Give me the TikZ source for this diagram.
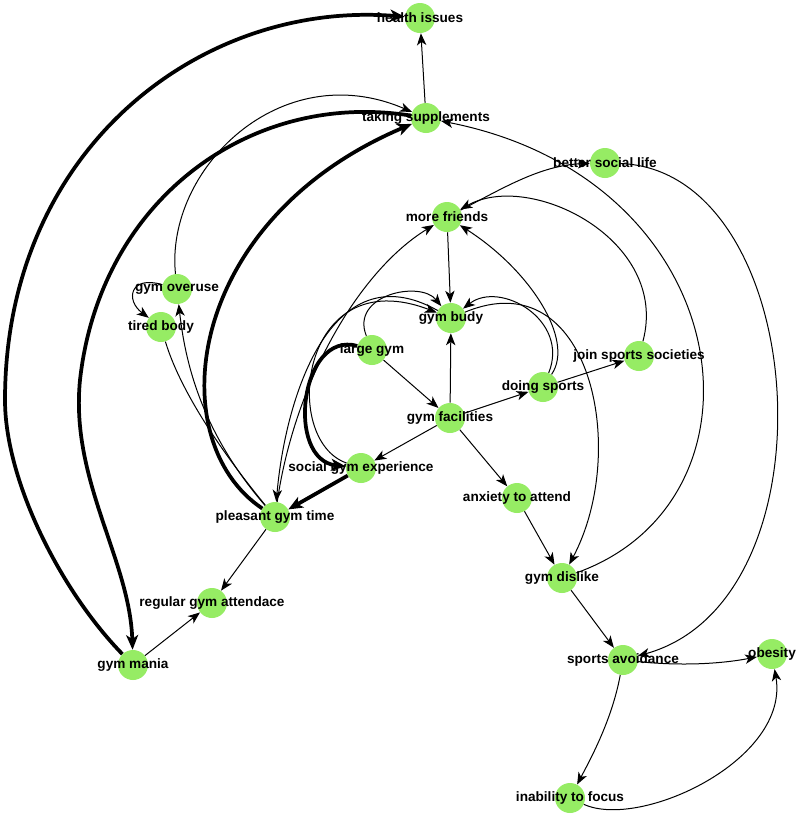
\documentclass[tikz,border=0pt]{standalone}
\usepackage{fontspec}
\setmainfont{Liberation Sans}
\usetikzlibrary{arrows.meta}
\definecolor{nodegreen}{RGB}{150,236,100}
\begin{document}
\begin{tikzpicture}[x=0.75pt,y=-0.75pt,
  concept/.style={circle,fill=nodegreen,draw=none,minimum size=22.5pt,inner sep=0pt},
  lbl/.style={font=\fontsize{10.2}{12}\selectfont\bfseries,inner sep=0pt},
  link/.style={draw=black,line width=0.75pt,-{Stealth[length=9pt,width=7pt,inset=2.5pt]}},
  plain/.style={draw=black,line width=0.75pt},
  strong/.style={draw=black,line width=2.8pt,-{Stealth[length=11pt,width=9pt,inset=3pt]}}]
\useasboundingbox (0,0) rectangle (800,818);
\fill[white] (0,0) rectangle (800,818);

% concepts
\foreach \n/\x/\y/\t in {
  hi/420/18/health issues,
  ts/426/118/taking supplements,
  bsl/605/163/better social life,
  mf/447/217/more friends,
  go/177/289/gym overuse,
  tb/161/327/tired body,
  gb/451/318/gym budy,
  lg/372/350/large gym,
  jss/639/356/join sports societies,
  ds/543/387/doing sports,
  gf/450/418/gym facilities,
  sge/361/468/social gym experience,
  aa/517/498/anxiety to attend,
  pgt/275/517/pleasant gym time,
  gd/562/578/gym dislike,
  rga/212/603/regular gym attendace,
  sa/623/660/sports avoidance,
  ob/772/654/obesity,
  gm/133/665/gym mania,
  if/570/798/inability to focus}
{
  \node[concept] (\n) at (\x,\y) {};
  \node[lbl] (\n-t) at (\x,\y) {\t};
}

% strong links
\draw[strong] (gm) .. controls (60,590) and (5,480) .. (5,400)
  .. controls (5,150) and (200,0) .. (hi);
\draw[strong] (ts) .. controls (250,90) and (100,200) .. (80,380)
  .. controls (70,480) and (130,560) .. (gm);
\draw[strong] (pgt) .. controls (160,440) and (185,220) .. (ts);
\draw[strong] (sge) -- (pgt);
\draw[strong] (lg) .. controls (300,330) and (285,460) .. (sge);

% ordinary links
\draw[link] (ts) -- (hi);
\draw[link] (go) .. controls (165,170) and (280,55) .. (ts);
\draw[link] (go) .. controls (130,275) and (125,300) .. (tb);
\draw[link] (pgt) .. controls (200,430) and (185,360) .. (go);
\draw[plain] (tb) .. controls (180,390) and (220,450) .. (pgt);
\draw[link] (pgt) -- (rga);
\draw[link] (gm) -- (rga);

\draw[link] (lg) -- (gf);
\draw[link] (gf) -- (gb);
\draw[link] (gf) -- (ds);
\draw[link] (gf) -- (sge);
\draw[link] (gf) -- (aa);
\draw[link] (aa) -- (gd);
\draw[link] (gd) -- (sa);
\draw[link] (ds) -- (jss);
\draw[link] (mf) -- (gb);

\draw[link] (lg) .. controls (350,295) and (420,280) .. (gb);
\draw[link] (sge) .. controls (280,440) and (300,260) .. (gb);
\draw[link] (gb) .. controls (330,250) and (285,400) .. (pgt);
\draw[link] (pgt) .. controls (295,380) and (360,270) .. (mf);

\draw[link] (ds) .. controls (570,320) and (500,280) .. (gb);
\draw[link] (ds) .. controls (575,340) and (530,270) .. (mf);
\draw[link] (gb) .. controls (590,260) and (630,450) .. (gd);

\draw[link] (jss) .. controls (670,240) and (530,170) .. (mf);
\draw[link] (mf) .. controls (500,190) and (540,165) .. (bsl);
\draw[link] (bsl) .. controls (810,170) and (840,600) .. (sa);
\draw[link] (gd) .. controls (780,500) and (740,180) .. (ts);

\draw[link] (sa) .. controls (612,720) and (590,760) .. (if);
\draw[link] (if) .. controls (640,830) and (790,760) .. (ob);
\draw[link] (sa) .. controls (680,666) and (720,664) .. (ob);
\end{tikzpicture}
\end{document}
